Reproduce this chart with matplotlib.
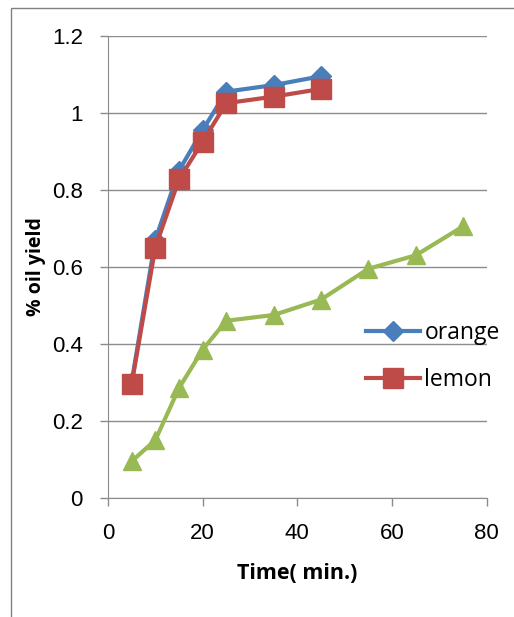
import matplotlib.pyplot as plt
from matplotlib.patches import Rectangle

# datos
tiempo = [5, 10, 15, 20, 25, 35, 45]
orange = [0.30, 0.67, 0.85, 0.955, 1.055, 1.072, 1.095]
lemon = [0.295, 0.65, 0.827, 0.925, 1.025, 1.042, 1.062]
tiempo_3 = [5, 10, 15, 20, 25, 35, 45, 55, 65, 75]
serie_3 = [0.095, 0.15, 0.285, 0.385, 0.46, 0.475, 0.515, 0.595, 0.63, 0.705]

fig = plt.figure(figsize=(5.14, 6.17), dpi=100)
ax = fig.add_axes([0.210, 0.193, 0.737, 0.749])

# marco exterior
fig.patches.append(Rectangle((11 / 514, -0.01), 1.0, 1 - 8 / 617 + 0.01,
                             transform=fig.transFigure, fill=False,
                             edgecolor='#808080', linewidth=1))

ax.plot(tiempo_3, serie_3, color='#98B954', linewidth=3, marker='^',
        markersize=13, zorder=3)
ax.plot(tiempo, orange, color='#4A7EBB', linewidth=3, marker='D',
        markersize=10, label='orange', zorder=4)
ax.plot(tiempo, lemon, color='#BE4B48', linewidth=3, marker='s',
        markersize=14, label='lemon', zorder=5)

ax.set_xlim(0, 80)
ax.set_ylim(0, 1.2)
ax.set_xticks([0, 20, 40, 60, 80])
ax.set_yticks([0, 0.2, 0.4, 0.6, 0.8, 1, 1.2])
ax.set_yticklabels(['0', '0.2', '0.4', '0.6', '0.8', '1', '1.2'])
ax.grid(True, axis='y', color='#8c8c8c', linewidth=1)
ax.set_axisbelow(True)
for s in ['top', 'right']:
    ax.spines[s].set_visible(False)
for s in ['left', 'bottom']:
    ax.spines[s].set_color('#8c8c8c')
ax.tick_params(axis='both', colors='#8c8c8c', length=6, width=1,
               labelsize=16, labelcolor='black', pad=12)
for lab in ax.get_xticklabels() + ax.get_yticklabels():
    lab.set_family('Liberation Sans')

ax.set_xlabel('Time( min.)', fontsize=15.5, fontweight='bold',
              family='Open Sans', labelpad=14)
ax.set_ylabel('% oil yield', fontsize=14, fontweight='bold',
              family='Open Sans', labelpad=4)

ax.legend(loc='upper left', bbox_to_anchor=(0.681, 0.383), frameon=False,
          prop={'family': 'Open Sans', 'size': 16.5}, handlelength=2.35,
          handletextpad=0.2, labelspacing=1.0, borderpad=0,
          borderaxespad=0)

plt.savefig('out.png', dpi=100)
